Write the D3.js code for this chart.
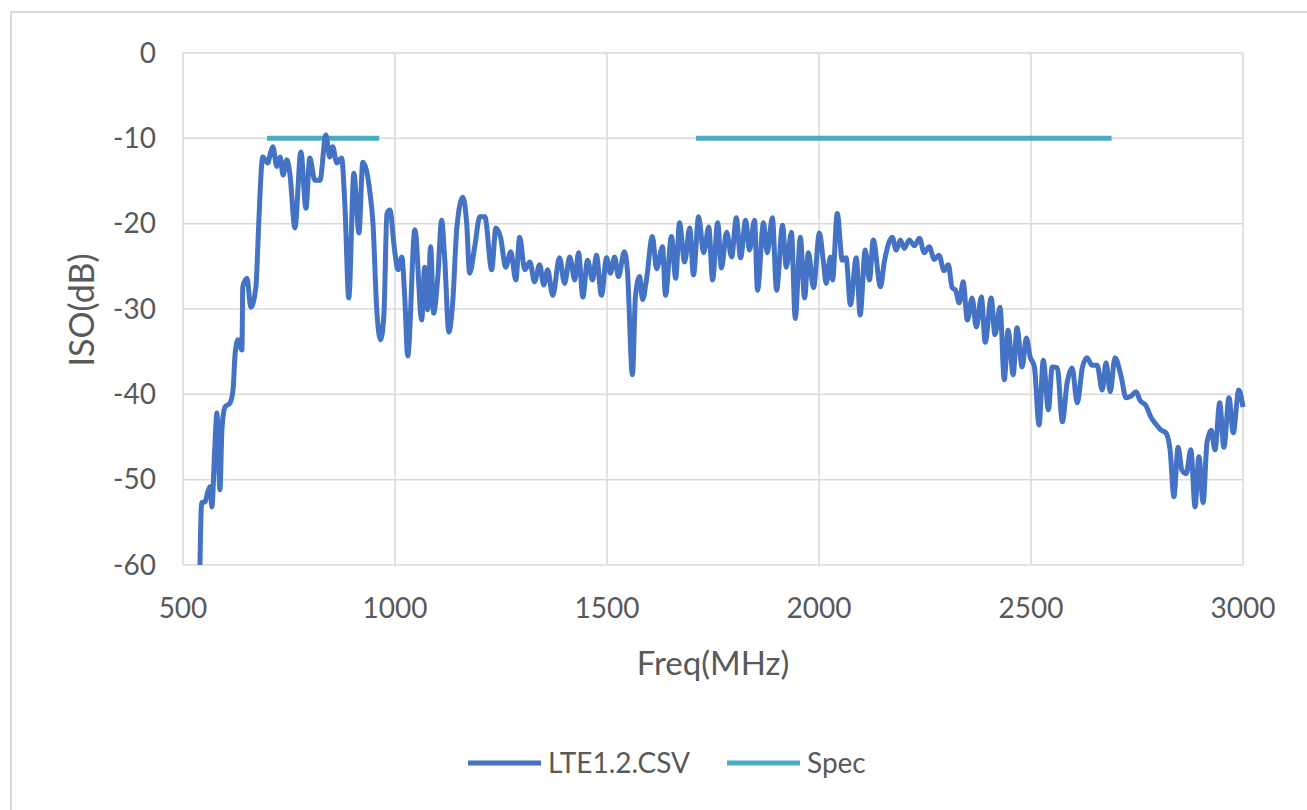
<!DOCTYPE html>
<html>
<head>
<meta charset="utf-8">
<script src="https://cdn.jsdelivr.net/npm/d3@7"></script>
<style>
	body { margin: 0; background: #fff; }
	text { font-family: Lato, "Open Sans", sans-serif; fill: #595959; }
</style>
</head>
<body>
<div id="chart"></div>
<script>
// measured trace, frequency in MHz
var freq = [540, 544, 552, 558, 564, 568, 575, 580, 587, 592, 599, 611, 618, 623, 630, 639, 641, 651, 660, 672,
	677, 681, 688, 700, 706, 712, 721, 729, 736, 745, 752, 764, 778, 790, 799, 811, 823, 837, 846, 853,
	863, 874, 882, 891, 903, 915, 924, 941, 948, 957, 966, 974, 981, 988, 999, 1007, 1016, 1023, 1030, 1047,
	1063, 1070, 1077, 1084, 1091, 1101, 1110, 1117, 1127, 1136, 1146, 1160, 1169, 1176, 1188, 1200, 1212, 1228, 1238, 1249,
	1261, 1273, 1285, 1294, 1306, 1318, 1329, 1341, 1351, 1360, 1372, 1388, 1400, 1412, 1424, 1433, 1443, 1454, 1466, 1475,
	1487, 1499, 1508, 1518, 1527, 1541, 1548, 1560, 1567, 1577, 1584, 1593, 1607, 1617, 1631, 1638, 1652, 1662, 1671, 1683,
	1695, 1704, 1716, 1728, 1740, 1749, 1761, 1770, 1782, 1794, 1805, 1815, 1827, 1836, 1848, 1855, 1869, 1878, 1890, 1900,
	1914, 1923, 1935, 1944, 1956, 1966, 1975, 1987, 2001, 2010, 2017, 2027, 2032, 2043, 2055, 2064, 2074, 2088, 2097, 2109,
	2119, 2128, 2145, 2154, 2173, 2182, 2192, 2201, 2213, 2225, 2237, 2248, 2260, 2272, 2283, 2295, 2305, 2314, 2322, 2331,
	2340, 2350, 2361, 2371, 2383, 2392, 2406, 2415, 2427, 2437, 2446, 2458, 2467, 2479, 2489, 2498, 2508, 2519, 2529, 2541,
	2550, 2562, 2574, 2585, 2597, 2609, 2621, 2632, 2644, 2656, 2668, 2677, 2687, 2698, 2713, 2724, 2736, 2748, 2757, 2771,
	2783, 2793, 2807, 2818, 2828, 2837, 2847, 2856, 2866, 2877, 2887, 2896, 2906, 2915, 2925, 2934, 2945, 2955, 2967, 2977,
	2990, 3000];

// isolation in dB, same order as freq
var iso = [-60, -52.7, -52.6, -51.5, -50.8, -53.2, -46.2, -42.2, -51.2, -44, -41.5, -41.0, -39.5, -35.2, -33.6, -34.8, -27.4, -26.4, -29.8, -27.4,
	-22, -17.2, -12.2, -12.9, -11.8, -11.0, -13.3, -12.2, -14.3, -12.5, -14.1, -20.5, -11.6, -18.2, -12.3, -14.9, -14.9, -9.6, -12.2, -11.0,
	-12.9, -12.3, -18.0, -28.7, -14.1, -21.1, -12.8, -16.4, -19.9, -30.1, -33.6, -30.5, -18.8, -18.4, -23.1, -25.4, -23.9, -28.6, -35.5, -20.7,
	-31.3, -25.1, -30.1, -22.7, -30.5, -26.2, -19.6, -23.9, -32.7, -29.3, -20.4, -16.9, -19.9, -25.8, -22.7, -19.2, -19.2, -25.4, -20.5, -21.6,
	-25.1, -23.3, -26.6, -21.6, -25.4, -24.5, -26.8, -24.8, -27.2, -25.4, -28.4, -24.0, -27.0, -23.9, -26.6, -23.4, -28.6, -24.3, -26.6, -23.7,
	-28.4, -24.0, -25.8, -23.9, -26.2, -23.3, -25.4, -37.7, -28.6, -26.2, -28.9, -26.6, -21.5, -25.3, -22.7, -28.4, -21.5, -26.4, -19.9, -24.5,
	-20.5, -26.0, -19.2, -23.4, -20.4, -26.6, -19.9, -25.2, -21.0, -23.9, -19.3, -24.0, -19.6, -23.1, -19.6, -27.8, -19.9, -23.4, -19.3, -27.8,
	-20.2, -25.1, -21.0, -31.1, -21.6, -28.7, -23.4, -27.5, -21.1, -24.3, -27.0, -23.9, -26.6, -18.8, -24.3, -24.0, -29.5, -24.0, -30.7, -23.1,
	-26.6, -21.9, -27.4, -24.5, -21.6, -23.1, -21.9, -22.9, -21.9, -22.6, -21.7, -23.4, -22.7, -24.2, -23.7, -25.5, -24.8, -27.5, -27.8, -29.3,
	-26.8, -31.3, -28.7, -32.1, -28.6, -33.9, -28.7, -33.0, -29.8, -38.3, -32.5, -37.7, -32.2, -36.8, -33.4, -35.6, -36.8, -43.6, -36.0, -41.8,
	-36.8, -36.9, -43.2, -38.7, -36.9, -41.0, -36.9, -35.7, -36.6, -36.6, -39.5, -36.3, -39.7, -35.7, -38.0, -40.4, -40.2, -39.7, -40.7, -41.3,
	-42.7, -43.4, -44.2, -44.5, -46.5, -52.0, -46.2, -48.9, -49.3, -46.5, -53.2, -47.3, -52.7, -45.7, -44.2, -46.5, -41.0, -46.2, -40.4, -44.5,
	-39.5, -41.5];

// spec limit, two bands (null breaks the line)
var specFreq = [698, 963, null, 1710, 2690];
var specIso = [-10, -10, null, -10, -10];

var xTicks = [500, 1000, 1500, 2000, 2500, 3000];
var yTicks = [0, -10, -20, -30, -40, -50, -60];

var seriesNames = ["LTE1.2.CSV", "Spec"];
var seriesColors = ["#4472c4", "#4bacc6"];

var width = 1307, height = 810;
var plotLeft = 183, plotRight = 1243, plotTop = 53, plotBottom = 565;

var svg = d3.select("#chart").append("svg").attr("width", width).attr("height", height);

// outer chart border
svg.append("rect")
	.attr("x", 11).attr("y", 12)
	.attr("width", 1320).attr("height", 820)
	.attr("fill", "none").attr("stroke", "#d9d9d9").attr("stroke-width", 2);

var x = d3.scaleLinear().domain([500, 3000]).range([plotLeft, plotRight]);
var y = d3.scaleLinear().domain([-60, 0]).range([plotBottom, plotTop]);

// gridlines
svg.append("g").selectAll("line").data(yTicks).enter().append("line")
	.attr("x1", plotLeft).attr("x2", plotRight)
	.attr("y1", function (d) { return y(d); }).attr("y2", function (d) { return y(d); })
	.attr("stroke", "#d9d9d9").attr("stroke-width", 1.5);

svg.append("g").selectAll("line").data(xTicks).enter().append("line")
	.attr("y1", plotTop).attr("y2", plotBottom)
	.attr("x1", function (d) { return x(d); }).attr("x2", function (d) { return x(d); })
	.attr("stroke", "#d9d9d9").attr("stroke-width", 1.5);

// tick labels
svg.append("g").selectAll("text").data(yTicks).enter().append("text")
	.attr("x", 156).attr("y", function (d) { return y(d); })
	.attr("dy", "0.35em").attr("text-anchor", "end")
	.attr("font-size", 28)
	.text(function (d) { return d; });

svg.append("g").selectAll("text").data(xTicks).enter().append("text")
	.attr("x", function (d) { return x(d); }).attr("y", 608)
	.attr("dy", "0.35em").attr("text-anchor", "middle")
	.attr("font-size", 28)
	.text(function (d) { return d; });

// axis titles
svg.append("text")
	.attr("x", 713).attr("y", 663).attr("dy", "0.35em")
	.attr("text-anchor", "middle").attr("font-size", 33)
	.text("Freq(MHz)");

svg.append("text")
	.attr("transform", "translate(82,310) rotate(-90)")
	.attr("dy", "0.35em").attr("text-anchor", "middle").attr("font-size", 34)
	.text("ISO(dB)");

// data lines
var main = freq.map(function (f, i) { return { f: f, v: iso[i] }; });
var spec = specFreq.map(function (f, i) { return { f: f, v: specIso[i] }; });

var line = d3.line()
	.defined(function (d) { return d.f !== null; })
	.x(function (d) { return x(d.f); })
	.y(function (d) { return y(d.v); });

var smoothLine = d3.line()
	.curve(d3.curveMonotoneX)
	.x(function (d) { return x(d.f); })
	.y(function (d) { return y(d.v); });

svg.append("path").datum(spec)
	.attr("d", line).attr("fill", "none")
	.attr("stroke", seriesColors[1]).attr("stroke-width", 5);

svg.append("path").datum(main)
	.attr("d", smoothLine).attr("fill", "none")
	.attr("stroke", seriesColors[0]).attr("stroke-width", 5)
	.attr("stroke-linejoin", "round");

// legend
var legendX = [468, 727];
var legend = svg.append("g").selectAll("g").data(seriesNames).enter().append("g")
	.attr("transform", function (d, i) { return "translate(" + legendX[i] + ",763)"; });

legend.append("line")
	.attr("x1", 0).attr("x2", 73).attr("y1", 0).attr("y2", 0)
	.attr("stroke", function (d, i) { return seriesColors[i]; })
	.attr("stroke-width", 5);

legend.append("text")
	.attr("x", 80).attr("dy", "0.35em").attr("font-size", 28)
	.text(function (d) { return d; });
</script>
</body>
</html>
